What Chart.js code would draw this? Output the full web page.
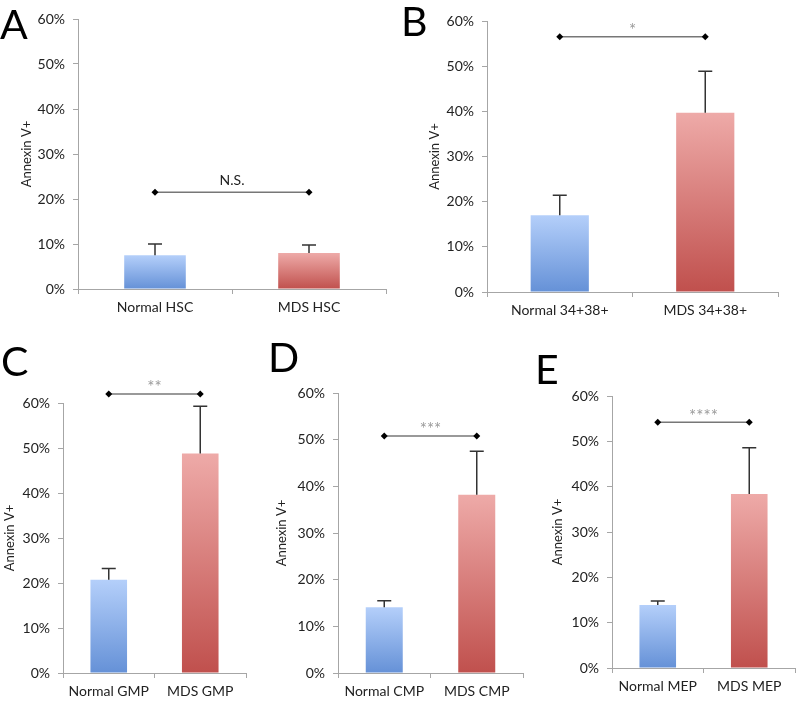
<!DOCTYPE html>
<html>
<head>
<meta charset="utf-8">
<script src="https://cdn.jsdelivr.net/npm/chart.js@4.4.1/dist/chart.umd.min.js"></script>
<style>
  body { margin: 0; background: #fff; }
  #page { position: relative; width: 796px; height: 702px; overflow: hidden; }
  .panel { position: absolute; }
  .letter { position: absolute; font-family: Lato, 'DejaVu Sans', sans-serif; font-size: 41px; line-height: 1; color: #000; }
</style>
</head>
<body>
<div id="page">
  <canvas id="chartA" class="panel"></canvas>
  <canvas id="chartB" class="panel"></canvas>
  <canvas id="chartC" class="panel"></canvas>
  <canvas id="chartD" class="panel"></canvas>
  <canvas id="chartE" class="panel"></canvas>
  <div class="letter" style="left:0px;top:3px">A</div>
  <div class="letter" style="left:401px;top:0px">B</div>
  <div class="letter" style="left:1px;top:340px">C</div>
  <div class="letter" style="left:268px;top:336px">D</div>
  <div class="letter" style="left:535px;top:348px">E</div>
</div>
<script>
// Chart data (percent Annexin V+)
const labelsA = ['Normal HSC', 'MDS HSC'];
const meansA = [7.5, 8.0];
const errorsA = [2.5, 1.8];

const labelsB = ['Normal 34+38+', 'MDS 34+38+'];
const meansB = [17.0, 39.7];
const errorsB = [4.4, 9.2];

const labelsC = ['Normal GMP', 'MDS GMP'];
const meansC = [20.7, 48.8];
const errorsC = [2.5, 10.5];

const labelsD = ['Normal CMP', 'MDS CMP'];
const meansD = [14.1, 38.2];
const errorsD = [1.4, 9.3];

const labelsE = ['Normal MEP', 'MDS MEP'];
const meansE = [13.9, 38.4];
const errorsE = [0.9, 10.2];

// significance bracket height and text, one per panel A..E
const sigLevels = [21.5, 56.5, 62, 50.8, 54.2];
const sigMarks = ['N.S.', '*', '**', '***', '****'];

const yTicks = [0, 10, 20, 30, 40, 50, 60];
const yTitle = 'Annexin V+';

const FONT = "Lato, 'DejaVu Sans', sans-serif";

// Panel placement (canvas box + where the plot area sits inside it)
const panels = [
    { id: 'chartA', labels: labelsA, means: meansA, errors: errorsA,
      left: 0, top: 0, w: 396, h: 320, axisW: 78, padTop: 19, padRight: 10, axisH: 31, titlePad: 19 },
    { id: 'chartB', labels: labelsB, means: meansB, errors: errorsB,
      left: 400, top: 0, w: 396, h: 320, axisW: 87, padTop: 21, padRight: 18, axisH: 28, titlePad: 27 },
    { id: 'chartC', labels: labelsC, means: meansC, errors: errorsC,
      left: 0, top: 330, w: 270, h: 372, axisW: 63, padTop: 73, padRight: 24, axisH: 29, titlePad: 2 },
    { id: 'chartD', labels: labelsD, means: meansD, errors: errorsD,
      left: 270, top: 330, w: 260, h: 372, axisW: 68, padTop: 63, padRight: 7, axisH: 29, titlePad: 4 },
    { id: 'chartE', labels: labelsE, means: meansE, errors: errorsE,
      left: 530, top: 330, w: 266, h: 372, axisW: 82, padTop: 66, padRight: 1, axisH: 34, titlePad: 20 }
];

const barStops = [
    ['#b4cffa', '#6591d7'],   // normal
    ['#eeaaa8', '#c0504d']    // MDS
];

// Error bars (upper whisker only) + significance bracket
const overlayPlugin = {
    id: 'overlay',
    afterDatasetsDraw(chart, args, opts) {
        const ctx = chart.ctx;
        const y = chart.scales.y;
        const x = chart.scales.x;
        const meta = chart.getDatasetMeta(0);
        ctx.save();
        ctx.strokeStyle = '#333';
        ctx.lineWidth = 1.5;
        opts.means.forEach((m, i) => {
            const px = meta.data[i].x;
            const yBar = y.getPixelForValue(m);
            const yTop = y.getPixelForValue(m + opts.errors[i]);
            ctx.beginPath();
            ctx.moveTo(px, yBar);
            ctx.lineTo(px, yTop);
            ctx.moveTo(px - 7, yTop);
            ctx.lineTo(px + 7, yTop);
            ctx.stroke();
        });

        const ys = y.getPixelForValue(opts.sig);
        const x0 = x.getPixelForValue(0);
        const x1 = x.getPixelForValue(1);
        ctx.strokeStyle = '#777';
        ctx.lineWidth = 1.5;
        ctx.beginPath();
        ctx.moveTo(x0, ys);
        ctx.lineTo(x1, ys);
        ctx.stroke();
        ctx.fillStyle = '#000';
        [x0, x1].forEach(px => {
            ctx.beginPath();
            ctx.moveTo(px, ys - 3.5);
            ctx.lineTo(px + 3.5, ys);
            ctx.lineTo(px, ys + 3.5);
            ctx.lineTo(px - 3.5, ys);
            ctx.closePath();
            ctx.fill();
        });
        ctx.textAlign = 'center';
        ctx.textBaseline = 'middle';
        if (opts.mark === 'N.S.') {
            ctx.fillStyle = '#222';
            ctx.font = '14px ' + FONT;
            ctx.fillText(opts.mark, (x0 + x1) / 2, ys - 12);
        } else {
            ctx.fillStyle = '#9a9a9a';
            ctx.font = '17px ' + FONT;
            ctx.fillText(opts.mark, (x0 + x1) / 2, ys - 6);
        }
        ctx.restore();
    }
};

function makeChart(p, idx) {
    const canvas = document.getElementById(p.id);
    canvas.width = p.w;
    canvas.height = p.h;
    canvas.style.left = p.left + 'px';
    canvas.style.top = p.top + 'px';
    canvas.style.width = p.w + 'px';
    canvas.style.height = p.h + 'px';

    new Chart(canvas, {
        type: 'bar',
        data: {
            labels: p.labels,
            datasets: [{
                data: p.means,
                backgroundColor: (c) => {
                    const chart = c.chart;
                    if (!chart.chartArea || c.dataIndex === undefined) return barStops[0][1];
                    const ys = chart.scales.y;
                    const top = ys.getPixelForValue(c.raw);
                    const bot = ys.getPixelForValue(0);
                    const g = chart.ctx.createLinearGradient(0, top, 0, bot);
                    g.addColorStop(0, barStops[c.dataIndex][0]);
                    g.addColorStop(1, barStops[c.dataIndex][1]);
                    return g;
                },
                borderWidth: 0,
                categoryPercentage: 1,
                barPercentage: 0.4
            }]
        },
        options: {
            responsive: false,
            animation: false,
            devicePixelRatio: 1,
            layout: { padding: { top: p.padTop, right: p.padRight, left: 0, bottom: 0 } },
            plugins: {
                legend: { display: false },
                tooltip: { enabled: false },
                overlay: { means: p.means, errors: p.errors, sig: sigLevels[idx], mark: sigMarks[idx] }
            },
            scales: {
                x: {
                    offset: true,
                    grid: { offset: true, drawOnChartArea: false, drawTicks: true, tickLength: 5, color: '#a6a6a6' },
                    border: { display: true, color: '#a6a6a6', width: 1 },
                    ticks: { color: '#222', font: { family: FONT, size: 14 }, padding: 5, maxRotation: 0, autoSkip: false },
                    afterFit: (s) => { s.height = p.axisH; }
                },
                y: {
                    min: 0,
                    max: 60,
                    afterBuildTicks: (s) => { s.ticks = yTicks.map(v => ({ value: v })); },
                    grid: { drawOnChartArea: false, drawTicks: true, tickLength: 5, color: '#a6a6a6' },
                    border: { display: true, color: '#a6a6a6', width: 1 },
                    ticks: {
                        color: '#222',
                        font: { family: FONT, size: 14 },
                        padding: 8,
                        callback: (v) => v + '%'
                    },
                    title: {
                        display: true,
                        text: yTitle,
                        color: '#222',
                        font: { family: FONT, size: 13 },
                        padding: { top: p.titlePad, bottom: 0 }
                    },
                    afterFit: (s) => { s.width = p.axisW; }
                }
            }
        },
        plugins: [overlayPlugin]
    });
}

panels.forEach(makeChart);
</script>
</body>
</html>
